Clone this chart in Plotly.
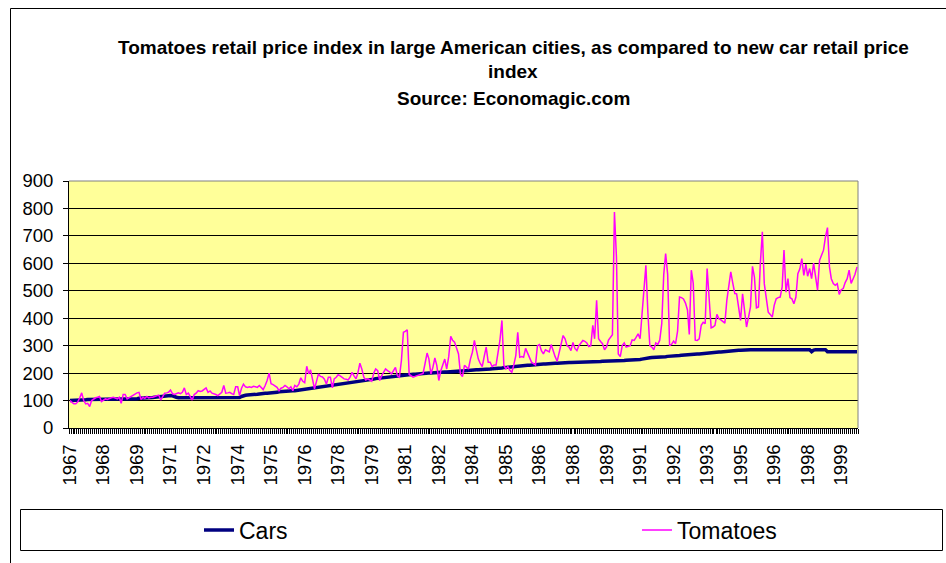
import pandas as pd
import plotly.graph_objects as go

# ---------------- data (monthly, Jan 1967 .. Apr 2000) ----------------
start_month = "1967-01-01"

tomatoes = [
    100, 92, 88, 88, 95, 110, 128, 100, 88, 90, 78, 100,          # 1967
    106, 110, 112, 115, 96, 102, 106, 104, 108, 110, 112, 108,     # 1968
    106, 112, 90, 122, 122, 106, 110, 115, 118, 125, 128, 130,     # 1969
    104, 112, 108, 115, 110, 112, 112, 115, 118, 120, 102, 115,    # 1970
    127, 128, 130, 138, 125, 122, 125, 128, 125, 130, 146, 122,    # 1971
    127, 115, 102, 122, 127, 136, 133, 135, 141, 146, 130, 135,    # 1972
    127, 125, 122, 118, 125, 130, 155, 127, 128, 130, 125, 122,    # 1973
    150, 150, 118, 145, 160, 150, 148, 150, 148, 152, 150, 148,    # 1974
    155, 148, 140, 155, 173, 200, 161, 158, 153, 148, 136, 145,    # 1975
    148, 155, 150, 143, 150, 136, 155, 150, 160, 183, 170, 165,    # 1976
    225, 197, 212, 175, 143, 170, 197, 188, 186, 178, 160, 185,    # 1977
    185, 146, 179, 185, 194, 190, 185, 179, 178, 175, 185, 203,    # 1978
    190, 179, 200, 236, 215, 185, 175, 179, 175, 170, 200, 215,    # 1979
    209, 173, 190, 205, 215, 209, 205, 197, 210, 221, 190, 185,    # 1980
    246, 349, 352, 358, 195, 188, 185, 188, 191, 194, 197, 199,    # 1981
    235, 273, 252, 197, 220, 255, 228, 173, 209, 230, 251, 215,    # 1982
    260, 334, 320, 313, 290, 270, 197, 187, 228, 220, 215, 250,    # 1983
    276, 319, 289, 252, 235, 224, 260, 295, 240, 240, 224, 230,    # 1984
    230, 270, 319, 392, 228, 215, 224, 210, 203, 230, 264, 349,    # 1985
    258, 260, 258, 290, 275, 258, 240, 235, 230, 300, 304, 282,    # 1986
    270, 285, 280, 277, 304, 277, 260, 243, 270, 305, 337, 325,    # 1987
    300, 295, 282, 312, 290, 282, 300, 312, 319, 316, 310, 297,    # 1988
    300, 374, 325, 465, 325, 315, 307, 285, 295, 320, 330, 340,    # 1989
    787, 623, 270, 260, 300, 310, 295, 298, 300, 321, 319, 330,    # 1990
    343, 325, 400, 500, 593, 420, 300, 295, 285, 310, 305, 320,    # 1991
    380, 560, 636, 560, 300, 305, 317, 307, 353, 477, 475, 470,    # 1992
    455, 430, 341, 575, 527, 320, 319, 325, 374, 385, 380, 581,    # 1993
    459, 365, 368, 374, 414, 398, 394, 386, 382, 465, 520, 569,    # 1994
    528, 490, 489, 428, 392, 489, 416, 368, 404, 441, 589, 550,    # 1995
    438, 441, 599, 715, 526, 477, 422, 414, 404, 447, 471, 475,    # 1996
    477, 514, 648, 495, 544, 475, 471, 453, 477, 562, 580, 617,    # 1997
    556, 597, 553, 581, 544, 601, 556, 502, 611, 630, 648, 696,    # 1998
    730, 587, 544, 526, 520, 526, 487, 504, 508, 530, 544, 575,    # 1999
    527, 544, 560, 587,                                            # 2000
]

cars = [
    100, 100, 100, 101, 101, 102, 102, 103, 103, 104, 104, 104,    # 1967
    105, 105, 105, 105, 105, 105, 105, 106, 106, 106, 106, 106,    # 1968
    106, 106, 106, 106, 106, 106, 107, 107, 107, 107, 107, 108,    # 1969
    108, 108, 109, 109, 110, 110, 111, 112, 113, 114, 115, 116,    # 1970
    117, 118, 118, 118, 117, 116, 112, 110, 110, 110, 110, 110,    # 1971
    110, 110, 110, 110, 110, 110, 110, 110, 110, 110, 110, 110,    # 1972
    110, 110, 110, 110, 110, 110, 110, 110, 110, 110, 110, 110,    # 1973
    110, 110, 111, 115, 118, 119, 120, 120, 121, 122, 122, 123,    # 1974
    124, 126, 126, 127, 127, 127, 128, 128, 128, 130, 132, 133,    # 1975
    134, 134, 135, 135, 135, 136, 136, 137, 138, 140, 141, 142,    # 1976
    143, 144, 144, 145, 146, 146, 147, 148, 149, 150, 151, 152,    # 1977
    153, 154, 155, 156, 157, 158, 160, 161, 162, 164, 165, 166,    # 1978
    167, 168, 169, 170, 171, 172, 173, 174, 176, 177, 178, 180,    # 1979
    181, 182, 183, 184, 184, 185, 185, 186, 187, 188, 189, 190,    # 1980
    191, 192, 193, 194, 195, 195, 196, 196, 197, 198, 198, 199,    # 1981
    199, 200, 200, 200, 201, 201, 202, 202, 203, 203, 204, 204,    # 1982
    205, 205, 206, 206, 207, 207, 208, 208, 209, 209, 210, 210,    # 1983
    211, 211, 212, 212, 213, 213, 214, 214, 215, 215, 216, 216,    # 1984
    217, 217, 218, 219, 220, 221, 222, 222, 223, 224, 225, 226,    # 1985
    227, 227, 228, 228, 229, 229, 230, 230, 231, 231, 232, 232,    # 1986
    233, 233, 234, 234, 235, 235, 236, 236, 237, 237, 238, 238,    # 1987
    238, 239, 239, 239, 240, 240, 240, 240, 240, 240, 240, 241,    # 1988
    241, 241, 242, 242, 242, 242, 243, 243, 243, 243, 243, 244,    # 1989
    244, 244, 245, 245, 246, 246, 247, 247, 248, 248, 248, 248,    # 1990
    249, 250, 251, 253, 255, 256, 256, 257, 257, 258, 258, 259,    # 1991
    260, 260, 260, 261, 261, 261, 262, 262, 263, 264, 265, 266,    # 1992
    267, 267, 268, 268, 269, 269, 270, 270, 271, 272, 273, 274,    # 1993
    274, 275, 275, 276, 276, 277, 277, 278, 278, 279, 280, 281,    # 1994
    281, 282, 282, 283, 283, 284, 284, 284, 284, 285, 285, 285,    # 1995
    285, 285, 285, 285, 285, 285, 285, 285, 285, 285, 285, 285,    # 1996
    285, 285, 285, 285, 285, 285, 285, 285, 285, 285, 285, 285,    # 1997
    285, 285, 285, 285, 278, 284, 285, 285, 285, 285, 285, 285,    # 1998
    278, 278, 278, 278, 278, 278, 278, 278, 278, 278, 278, 278,    # 1999
    278, 278, 278, 278,                                            # 2000
]

tick_years = ["1967", "1968", "1969", "1971", "1972", "1974", "1975", "1976",
              "1978", "1979", "1981", "1982", "1984", "1985", "1986", "1988",
              "1989", "1991", "1992", "1993", "1995", "1996", "1998", "1999"]
label_every = 17  # one category label every 17 months

months = pd.date_range(start_month, periods=len(tomatoes), freq="MS")

title_lines = [
    "Tomatoes retail price index in large American cities, as compared to new car retail price",
    "index",
    "Source: Economagic.com",
]

# ---------------- figure ----------------
W, H = 946, 563
L, R, T, B = 69, 858, 181, 428  # plot area in pixels
FONT = "Arial, 'Liberation Sans', sans-serif"


def px_x(p):
    return (p - L) / (R - L)


def px_y(p):
    return (B - p) / (B - T)


fig = go.Figure()
fig.add_trace(go.Scatter(x=months, y=cars, name="Cars", mode="lines",
                         line=dict(color="#000080", width=3.5), legend="legend"))
fig.add_trace(go.Scatter(x=months, y=tomatoes, name="Tomatoes", mode="lines",
                         line=dict(color="#FF00FF", width=1.5), legend="legend2"))

half = pd.Timedelta(days=15)
fig.update_xaxes(
    type="date",
    range=[months[0] - half, months[-1] + half],
    tickvals=list(months[::label_every]),
    ticktext=tick_years,
    tickangle=-90,
    ticks="",
    tickfont=dict(family=FONT, size=18.5, color="black"),
    showgrid=False,
    showline=True, linecolor="black", linewidth=1,
    zeroline=False,
    ticklabelstandoff=8,
    minor=dict(ticks="outside", ticklen=5, tickcolor="black", tickwidth=1,
               dtick="M1", tick0=str((months[0] - half).date()), showgrid=False),
)
fig.update_yaxes(
    range=[0, 900], dtick=100,
    ticks="outside", ticklen=5, tickcolor="black",
    tickfont=dict(family=FONT, size=18.5, color="black"),
    showgrid=True, gridcolor="black", gridwidth=1,
    showline=True, linecolor="black", linewidth=1,
    zeroline=False,
    ticklabelstandoff=6,
)

shapes = [
    # plot-area top and right border (grey)
    dict(type="line", xref="paper", yref="paper", x0=0, x1=1, y0=1, y1=1,
         line=dict(color="#808080", width=1)),
    dict(type="line", xref="paper", yref="paper", x0=1, x1=1, y0=0, y1=1,
         line=dict(color="#808080", width=1)),
    # chart-area border
    dict(type="rect", xref="paper", yref="paper",
         x0=px_x(10.5), x1=px_x(980), y0=px_y(600), y1=px_y(8.5),
         line=dict(color="black", width=1), fillcolor="rgba(0,0,0,0)"),
    # legend box
    dict(type="rect", xref="paper", yref="paper",
         x0=px_x(20.5), x1=px_x(942.5), y0=px_y(550.5), y1=px_y(509.5),
         line=dict(color="black", width=1), fillcolor="rgba(0,0,0,0)"),
]

annotations = []
for text, yp in zip(title_lines, [47, 72, 98]):
    annotations.append(dict(text="<b>" + text + "</b>", xref="paper", yref="paper",
                            x=px_x(513), y=px_y(yp), xanchor="center", yanchor="middle",
                            showarrow=False,
                            font=dict(family=FONT, size=19, color="black")))

legend_common = dict(orientation="h", xanchor="left", yanchor="middle",
                     y=px_y(530),
                     font=dict(family=FONT, size=23, color="black"),
                     bgcolor="rgba(0,0,0,0)", borderwidth=0)

fig.update_layout(
    width=W, height=H,
    margin=dict(l=L, r=W - R, t=T, b=H - B, pad=0),
    paper_bgcolor="white",
    plot_bgcolor="#FFFF99",
    font=dict(family=FONT, color="black"),
    shapes=shapes,
    annotations=annotations,
    showlegend=True,
    legend=dict(x=px_x(199), **legend_common),
    legend2=dict(x=px_x(637), **legend_common),
)

fig.write_html("out.html",
               config={"displayModeBar": False},
               post_script="document.body.style.margin='0';document.body.style.overflow='hidden';")
